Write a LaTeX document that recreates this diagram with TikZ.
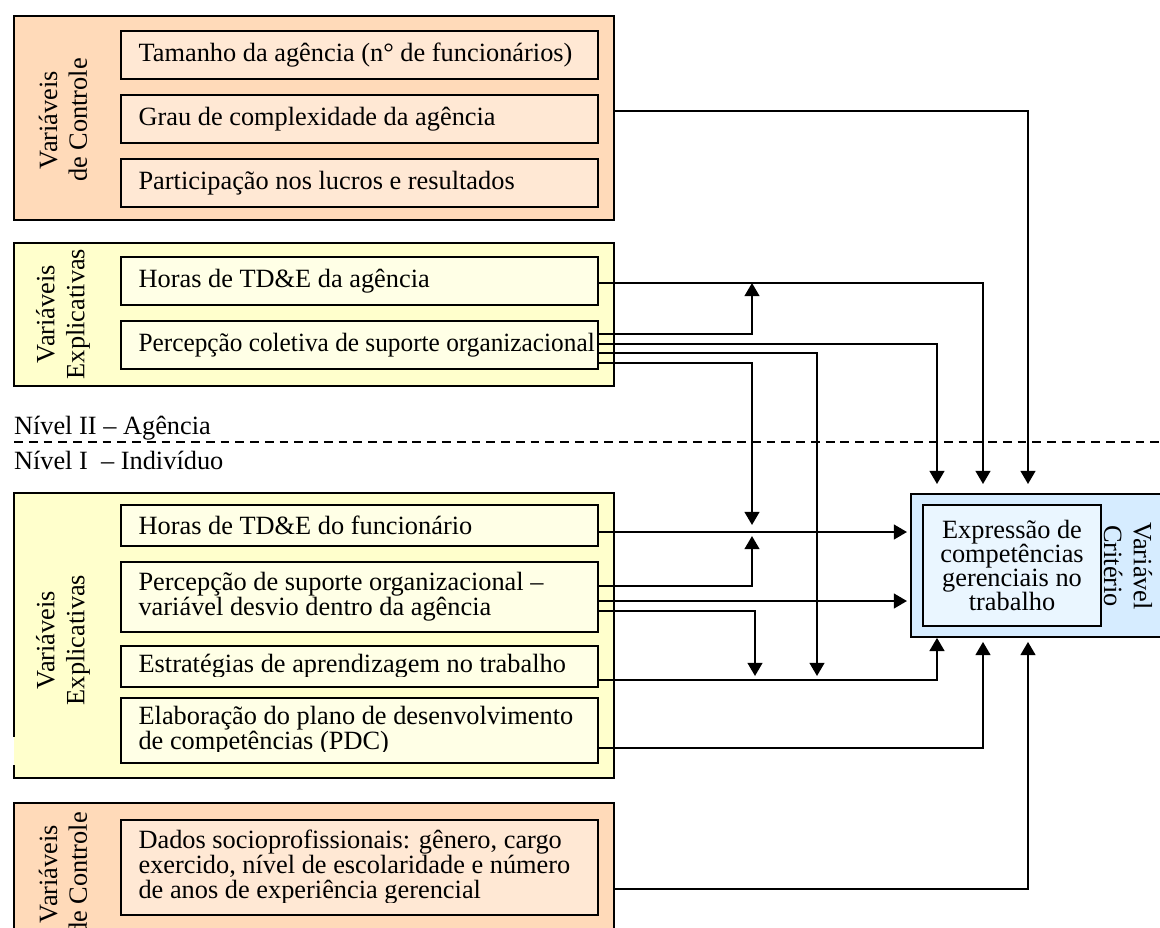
\documentclass[tikz,border=0pt]{standalone}
\usepackage{fontspec}
\setmainfont{Liberation Serif}
\usetikzlibrary{calc,arrows.meta}
\newcommand\pxu{0.02cm}
\definecolor{ctrlOut}{RGB}{255,218,185}
\definecolor{ctrlIn}{RGB}{255,232,212}
\definecolor{explOut}{RGB}{255,255,204}
\definecolor{explIn}{RGB}{255,255,230}
\definecolor{critOut}{RGB}{214,236,255}
\definecolor{critIn}{RGB}{234,246,255}
\tikzset{
  every node/.style={font=\fontsize{15pt}{14.2pt}\selectfont, inner sep=0pt, outer sep=0pt},
  frame/.style={draw=black, line width=1.1pt},
  txt/.style={anchor=west, align=left, xshift=10pt},
  rot/.style={rotate=90, align=center, font=\fontsize{15pt}{17pt}\selectfont},
  rotr/.style={rotate=-90, align=center, font=\fontsize{15pt}{17pt}\selectfont},
  conn/.style={line width=1pt, -{Triangle[width=8.5pt,length=7.5pt]}},
  level/.style={draw=black, line width=1pt, dash pattern=on 5pt off 3.4pt},
}
% box helper: name, x1, y1, x2, y2, style
\newcommand\boxat[6]{\node[#6, anchor=north west, minimum width={(#4-#2)*\pxu}, minimum height={(#5-#3)*\pxu}] (#1) at (#2,#3) {};}
\begin{document}
\begin{tikzpicture}[x=\pxu, y=-\pxu]
\useasboundingbox (0,0) rectangle (1160,927);
\clip (0,0) rectangle (1160,927);

% ---------- Level II: control variables ----------
\boxat{cA}{14}{16}{614}{220}{frame, fill=ctrlOut}
\boxat{tam}{121}{31}{598}{79}{frame, fill=ctrlIn}
\boxat{grau}{121}{95}{598}{143}{frame, fill=ctrlIn}
\boxat{part}{121}{159}{598}{207}{frame, fill=ctrlIn}
\node[txt] (tamT) at (tam.west) {Tamanho da agência (n° de funcionários)};
\node[txt] (grauT) at (grau.west) {Grau de complexidade da agência};
\node[txt] (partT) at (part.west) {Participação nos lucros e resultados};
\node[rot] (cAL) at (63,120) {Variáveis\\de Controle};

% ---------- Level II: explanatory variables ----------
\boxat{eA}{14}{243}{614}{386}{frame, fill=explOut}
\boxat{hA}{121}{257}{598}{305}{frame, fill=explIn}
\boxat{pC}{121}{321}{598}{369}{frame, fill=explIn}
\node[txt] (hAT) at (hA.west) {Horas de TD\&E da agência};
\node[txt] (pCT) at (pC.west) {\addfontfeature{FakeStretch=0.96}Percepção coletiva de suporte organizacional};
\node[rot] (eAL) at (63,314) {Variáveis\\Explicativas};

% ---------- level separator ----------
\coordinate (sepL) at (14,442);
\coordinate (sepR) at (1160,442);
\draw[level] (sepL) -- (sepR);
\node[anchor=base west] (lvl2) at (14,434) {Nível II – Agência};
\node[anchor=base west] (lvl1) at (14,469) {Nível I\ \ – Indivíduo};

% ---------- Level I: explanatory variables ----------
\boxat{eB}{14}{493}{614}{778}{fill=explOut}
\draw[frame] ($(eB.south west)+(0,-13)$) -- (eB.south west) -- (eB.south east)
  -- (eB.north east) -- (eB.north west) -- ($(eB.north west)+(0,244)$);
\boxat{hF}{121}{505}{598}{546}{frame, fill=explIn}
\boxat{pS}{121}{562}{598}{632}{frame, fill=explIn}
\boxat{eS}{121}{646}{598}{687}{frame, fill=explIn}
\boxat{eP}{121}{698}{598}{763}{frame, fill=explIn}
\node[txt] (hFT) at (hF.west) {Horas de TD\&E do funcionário};
\node[txt] (pST) at (pS.west) {Percepção de suporte organizacional –\\variável desvio dentro da agência};
\begin{scope}
  \clip (eS.north west) rectangle ($(eS.south east)+(0,-11)$);
  \node[txt] (eST) at (eS.west) {Estratégias de aprendizagem no trabalho};
\end{scope}
\begin{scope}
  \clip (eP.north west) rectangle ($(eP.south east)+(0,-12)$);
  \node[txt] (ePT) at (eP.west) {Elaboração do plano de desenvolvimento\\de competências (PDC)};
\end{scope}
\node[rot] (eBL) at (63,640) {Variáveis\\Explicativas};

% ---------- Level I: control variables ----------
\boxat{cB}{14}{803}{614}{960}{frame, fill=ctrlOut}
\boxat{dS}{121}{820}{598}{915}{frame, fill=ctrlIn}
\begin{scope}
  \clip (dS.north west) rectangle ($(dS.south east)+(0,-13)$);
  \node[txt] (dST) at (dS.west) {Dados socioprofissionais: gênero, cargo\\exercido, nível de escolaridade e número\\de anos de experiência gerencial};
\end{scope}
\node[rot] (cBL) at (63,874) {Variáveis\\de Controle};

% ---------- criterion variable ----------
\boxat{crit}{911}{494}{1180}{637}{frame, fill=critOut}
\boxat{critIn}{923}{505}{1101}{626}{frame, fill=critIn}
\node[align=center, font=\fontsize{15pt}{13.8pt}\selectfont] (critT) at (critIn.center) {Expressão de\\competências\\gerenciais no\\trabalho};
\node[rotr] (critL) at (1128,566) {Variável\\Critério};

% ---------- connector levels ----------
\coordinate (gO)  at ($(grau.east -| cA.east)+(0,-8)$);
\coordinate (hAo) at ($(hA.east)+(0,2)$);
\coordinate (pC1) at ($(pC.east)+(0,-11)$);
\coordinate (pC2) at ($(pC.east)+(0,-1)$);
\coordinate (pC3) at ($(pC.east)+(0,8)$);
\coordinate (pC4) at ($(pC.east)+(0,18)$);
\coordinate (hFo) at ($(hF.east)+(0,6.5)$);
\coordinate (pS1) at ($(pS.east)+(0,-11)$);
\coordinate (pS2) at ($(pS.east)+(0,4)$);
\coordinate (pS3) at ($(pS.east)+(0,14)$);
\coordinate (eSo) at ($(eS.east)+(0,13.5)$);
\coordinate (ePo) at ($(eP.east)+(0,17.5)$);
\coordinate (dSo) at ($(dS.east -| cB.east)+(0,21.5)$);
% vertical runs
\coordinate (xA) at (937,0);
\coordinate (xB) at (983,0);
\coordinate (xC) at (1028,0);
\coordinate (xM) at (752,0);
\coordinate (xP) at (755,0);
\coordinate (xN) at (817,0);

% ---------- connectors ----------
\draw[conn, shorten >=5.7pt] (gO) -| (crit.north -| xC);
\draw[conn, shorten >=5.7pt] (hAo) -| (crit.north -| xB);
\draw[conn, shorten >=5.7pt] (pC2) -| (crit.north -| xA);
\draw[conn] (pC1) -| (hAo -| xM);
\draw[conn, shorten >=2.3pt] (pC3) -| (eSo -| xN);
\draw[conn, shorten >=4pt] (pC4) -| (hFo -| xM);
\draw[conn, shorten >=2.3pt] (hFo) -- (hFo -| crit.west);
\draw[conn, shorten >=2.3pt] (pS1) -| (hFo -| xM);
\draw[conn, shorten >=2.3pt] (pS2) -- (pS2 -| crit.west);
\draw[conn, shorten >=2.3pt] (pS3) -| (eSo -| xP);
\draw[conn, shorten >=0.5pt] (eSo) -| (crit.south -| xA);
\draw[conn, shorten >=2.8pt] (ePo) -| (crit.south -| xB);
\draw[conn, shorten >=2.8pt] (dSo) -| (crit.south -| xC);
\end{tikzpicture}
\end{document}
